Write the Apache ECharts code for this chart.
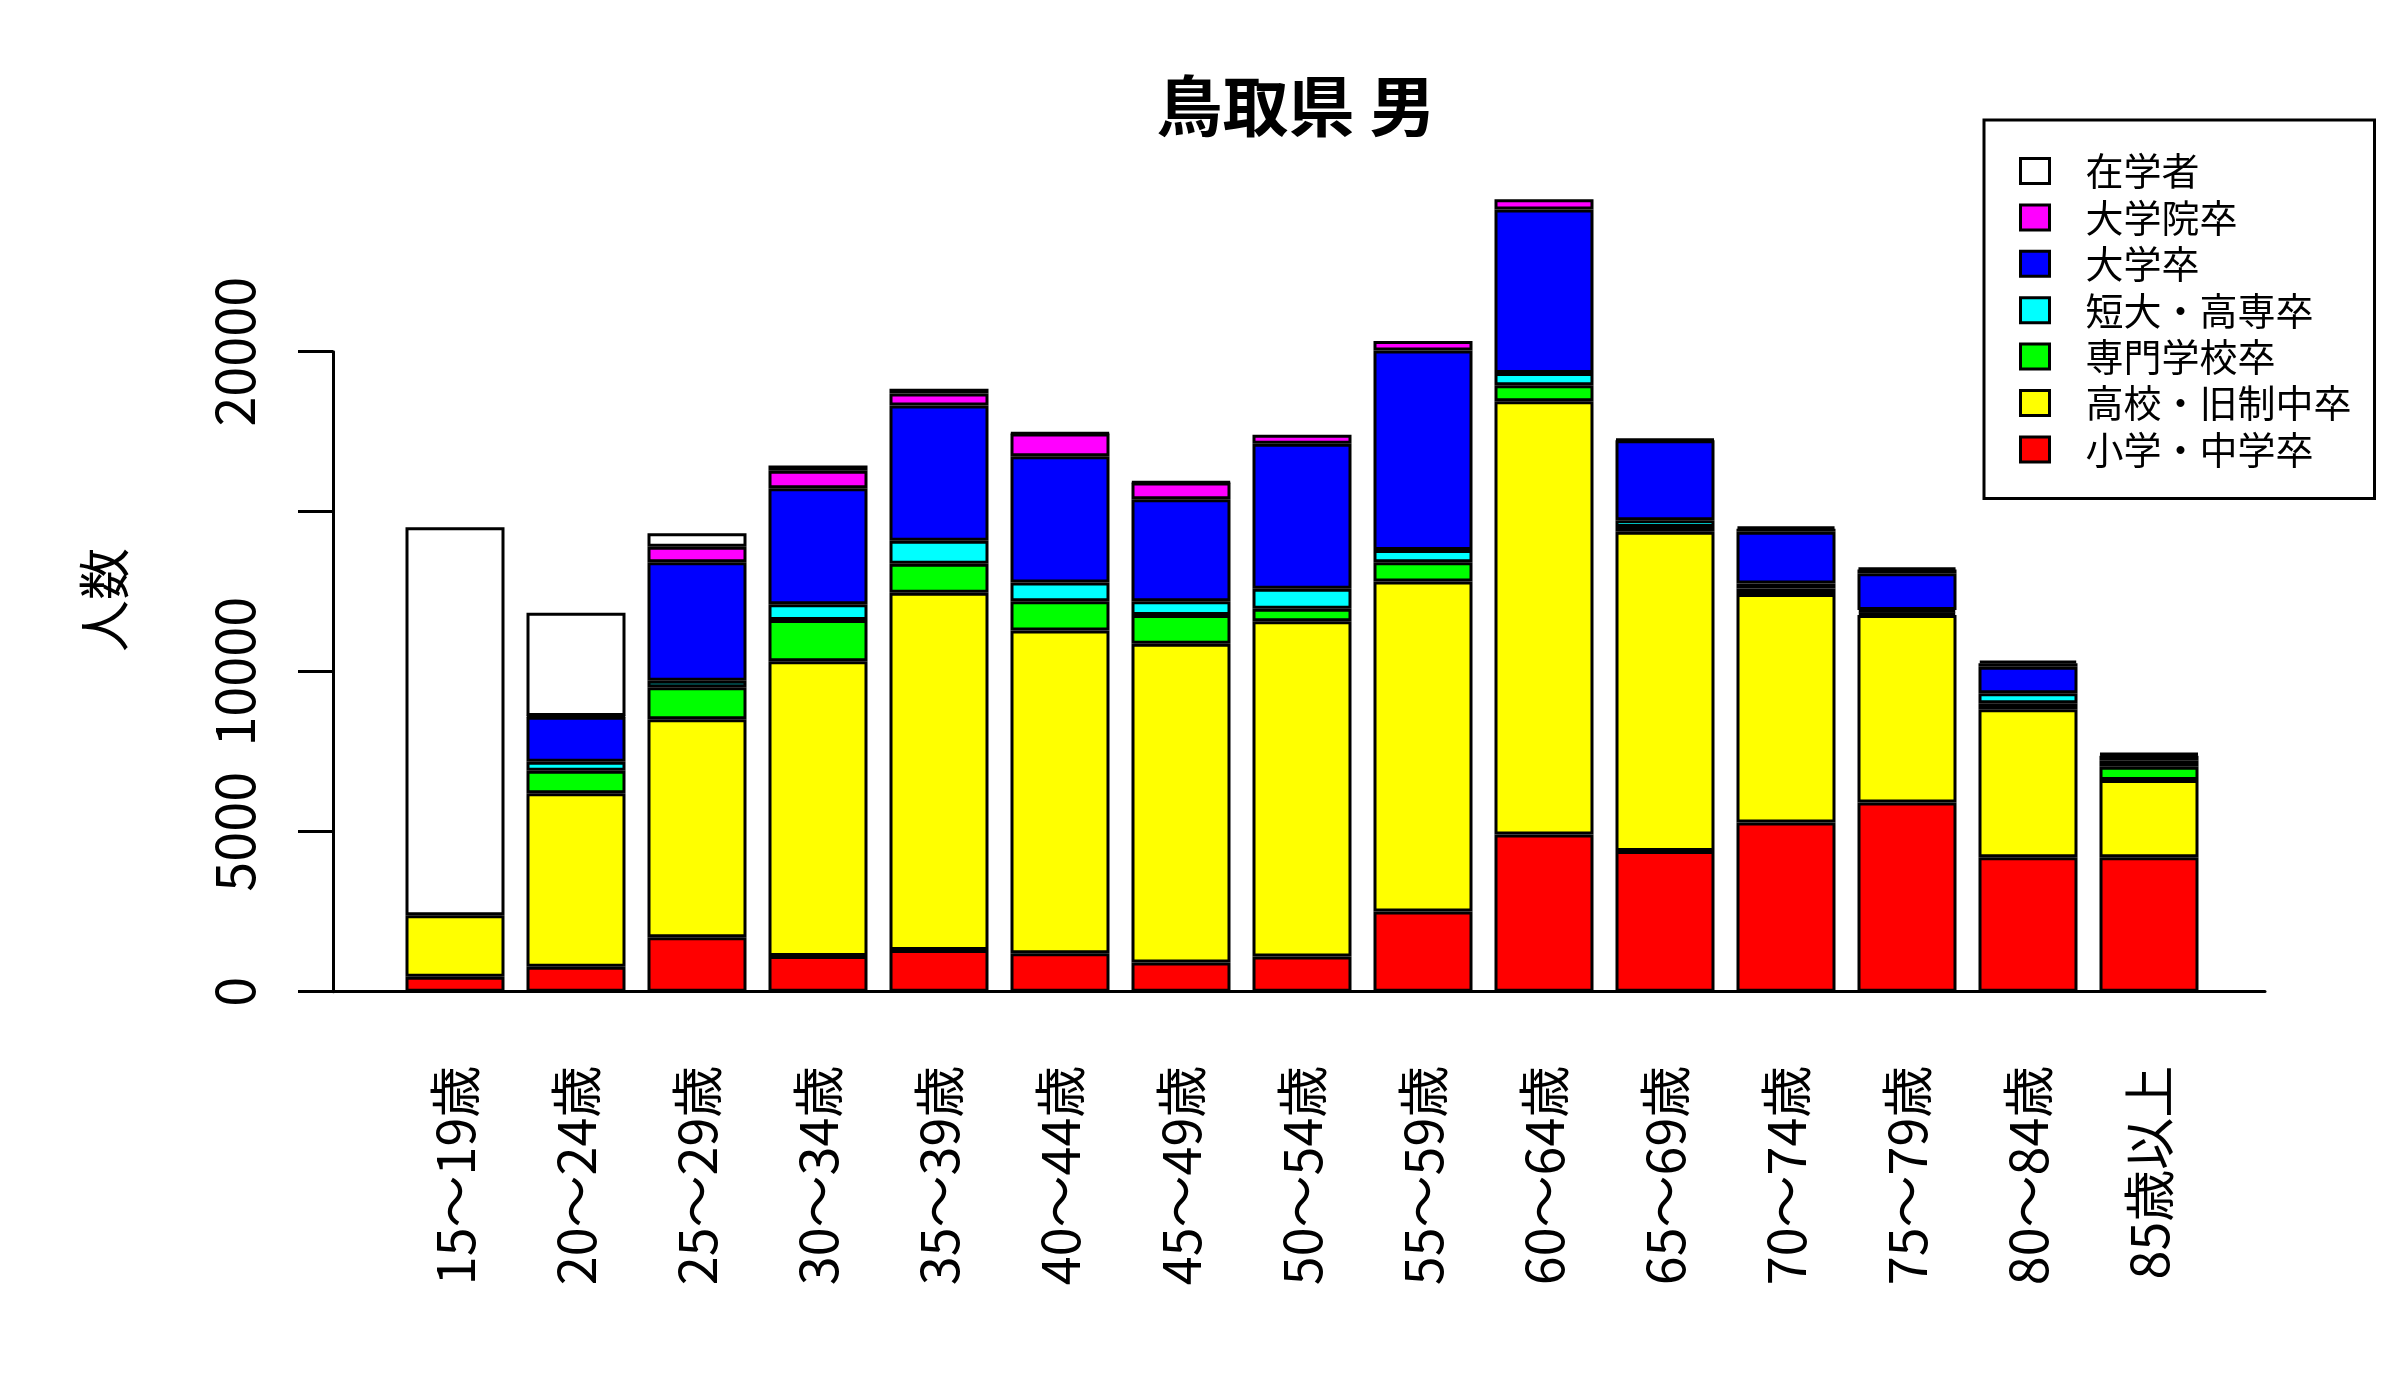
<!DOCTYPE html>
<html>
<head>
<meta charset="utf-8">
<script src="https://cdn.jsdelivr.net/npm/echarts@6/dist/echarts.min.js"></script>
<style>
html,body{margin:0;padding:0;background:#fff;}
#chart{width:2400px;height:1400px;}
</style>
</head>
<body>
<div id="chart"></div>
<script>
const categories = ['15～19歳','20～24歳','25～29歳','30～34歳','35～39歳','40～44歳','45～49歳','50～54歳','55～59歳','60～64歳','65～69歳','70～74歳','75～79歳','80～84歳','85歳以上'];
const elementary = [469, 781, 1700, 1116, 1300, 1200, 910, 1100, 2510, 4910, 4400, 5290, 5910, 4200, 4200];
const highSchool = [1919, 5420, 6813, 9209, 11170, 10090, 9960, 10480, 10310, 13540, 9970, 7140, 5860, 4625, 2416];
const vocational = [0, 706, 1000, 1290, 900, 910, 900, 390, 600, 500, 150, 170, 80, 190, 415];
const juniorCollege = [0, 282, 206, 491, 720, 585, 430, 620, 385, 385, 210, 160, 80, 310, 190];
const university = [0, 1406, 3700, 3625, 4230, 3950, 3190, 4530, 6230, 5110, 2500, 1610, 1150, 830, 150];
const graduate = [0, 20, 487, 550, 370, 710, 520, 285, 300, 320, 30, 100, 110, 110, 40];
const students = [12125, 3230, 419, 160, 150, 20, 20, 0, 0, 0, 0, 60, 60, 80, 30];
const yTickLabels = [0, 5000, 10000, 20000];

const seriesDefs = [
  ['小学・中学卒', elementary, '#ff0000'],
  ['高校・旧制中卒', highSchool, '#ffff00'],
  ['専門学校卒', vocational, '#00ff00'],
  ['短大・高専卒', juniorCollege, '#00ffff'],
  ['大学卒', university, '#0000ff'],
  ['大学院卒', graduate, '#ff00ff'],
  ['在学者', students, '#ffffff']
];

const chart = echarts.init(document.getElementById('chart'), null, {renderer:'canvas'});
const FONT = '"Liberation Sans Narrow", "Noto Sans CJK JP", sans-serif';
const CJK = '"Noto Sans CJK JP", sans-serif';

const series = seriesDefs.map(([name, data, color]) => ({
  name: name,
  type: 'bar',
  stack: 'total',
  xAxisIndex: 0,
  yAxisIndex: 0,
  data: data.map(v => v === 0 ? '-' : v),
  barWidth: 99,
  itemStyle: {color: color, borderColor: '#000', borderWidth: 3},
  emphasis: {disabled: true},
  animation: false
}));

const option = {
  animation: false,
  backgroundColor: '#ffffff',
  title: {
    text: '鳥取県 男',
    left: 1291,
    top: 68,
    textAlign: 'center',
    textStyle: {fontFamily: CJK, fontWeight: 'bold', fontSize: 66, color: '#000'}
  },
  legend: {
    orient: 'vertical',
    left: 1984,
    top: 120,
    padding: [32, 23, 30, 35],
    borderColor: '#000',
    borderWidth: 3,
    itemWidth: 29,
    itemHeight: 25,
    itemGap: 8.4,
    icon: 'rect',
    data: ['在学者','大学院卒','大学卒','短大・高専卒','専門学校卒','高校・旧制中卒','小学・中学卒'],
    itemStyle: {borderColor: '#000', borderWidth: 3},
    textStyle: {fontFamily: CJK, fontSize: 38, color: '#000', padding: [0,0,0,31]}
  },
  grid: [
    {left: 394.5, right: 190.5, top: 191.7, bottom: 408.3, containLabel: false},
    {left: 300, right: 135, top: 208.3, bottom: 408.3, containLabel: false},
    {left: 333, right: 135, top: 351.7, bottom: 408.3, containLabel: false}
  ],
  xAxis: [
    {
      gridIndex: 0, type: 'category', data: categories,
      axisLine: {show: false}, axisTick: {show: false}, splitLine: {show: false},
      axisLabel: {interval: 0, rotate: 90, margin: 74, fontFamily: FONT, fontSize: 52, color: '#000'}
    },
    {
      gridIndex: 1, type: 'value', min: 0, max: 1,
      axisLine: {show: true, onZero: false, lineStyle: {color: '#000', width: 3}},
      axisTick: {show: false}, axisLabel: {show: false}, splitLine: {show: false}
    },
    {
      gridIndex: 2, type: 'value', min: 0, max: 1, show: false
    }
  ],
  yAxis: [
    {
      gridIndex: 0, type: 'value', min: 0, max: 25000, show: false
    },
    {
      gridIndex: 1, type: 'value', min: 0, max: 1,
      name: '人数', nameLocation: 'middle', nameGap: 170, nameRotate: 90,
      nameTextStyle: {fontFamily: CJK, fontSize: 52, color: '#000'},
      axisLine: {show: false}, axisTick: {show: false}, axisLabel: {show: false}, splitLine: {show: false}
    },
    {
      gridIndex: 2, type: 'value', min: 0, max: 20000, interval: 5000,
      axisLine: {show: true, lineStyle: {color: '#000', width: 3}},
      axisTick: {show: true, length: 35, lineStyle: {color: '#000', width: 3}},
      axisLabel: {rotate: 90, margin: 72, fontFamily: FONT, fontSize: 54, color: '#000',
        formatter: v => yTickLabels.includes(v) ? String(v) : ''},
      splitLine: {show: false}
    }
  ],
  series: series.concat([
    {type: 'line', xAxisIndex: 1, yAxisIndex: 1, data: [], silent: true},
    {type: 'line', xAxisIndex: 2, yAxisIndex: 2, data: [], silent: true}
  ])
};
chart.setOption(option);
</script>
</body>
</html>
